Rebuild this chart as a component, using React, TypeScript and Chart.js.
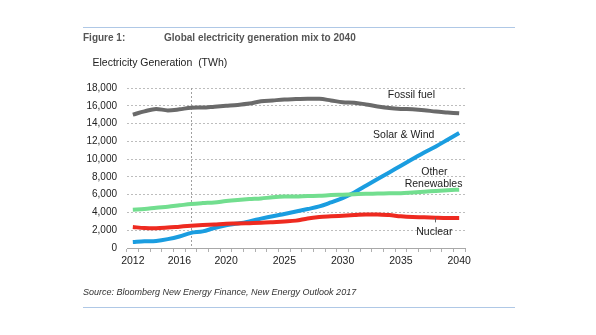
import React, { useEffect, useRef } from "react";
import { Chart, registerables } from "chart.js";

Chart.register(...registerables);

const years = [
  "2012", "2013", "2014", "2015", "2016", "2017", "2018", "2019", "2020", "2021",
  "2022", "2023", "2024", "2025", "2026", "2027", "2028", "2029", "2030", "2031",
  "2032", "2033", "2034", "2035", "2036", "2037", "2038", "2039", "2040",
];
const shownYearLabels = ["2012", "2016", "2020", "2025", "2030", "2035", "2040"];

const fossilFuel = [
  15000, 15370, 15650, 15480, 15600, 15780, 15800, 15900, 16000, 16100,
  16250, 16500, 16600, 16700, 16750, 16800, 16780, 16600, 16400, 16350,
  16150, 15930, 15750, 15650, 15600, 15500, 15350, 15250, 15150,
];
const solarWind = [
  670, 750, 800, 1000, 1300, 1700, 1870, 2250, 2550, 2750,
  3000, 3300, 3580, 3830, 4100, 4380, 4680, 5130, 5620, 6250,
  7000, 7760, 8500, 9260, 10000, 10750, 11430, 12180, 12940,
];
const otherRenewables = [
  4300, 4380, 4530, 4650, 4800, 4950, 5050, 5130, 5280, 5400,
  5500, 5580, 5700, 5780, 5800, 5850, 5880, 5950, 6000, 6050,
  6100, 6120, 6150, 6170, 6250, 6330, 6420, 6500, 6560,
];
const nuclear = [
  2360, 2250, 2230, 2300, 2400, 2500, 2580, 2650, 2730, 2750,
  2790, 2830, 2900, 2980, 3080, 3330, 3480, 3560, 3630, 3700,
  3780, 3780, 3700, 3560, 3480, 3450, 3400, 3370, 3370,
];
const yTicks = [0, 2000, 4000, 6000, 8000, 10000, 12000, 14000, 16000, 18000];
const forecastStartYear = "2017";

// Series labels anchored in data space (fractional year index, value)
const seriesLabels = [
  { text: "Fossil fuel", idx: 23.9, value: 17250, align: "center" },
  { text: "Solar & Wind", idx: 25.87, value: 12750, align: "right" },
  { text: "Other", idx: 25.87, value: 8550, align: "center" },
  { text: "Renewables", idx: 25.8, value: 7230, align: "center" },
  { text: "Nuclear", idx: 25.87, value: 1750, align: "center" },
];

const FONT = "'Liberation Sans', Arial, sans-serif";

const decorPlugin = {
  id: "decor",
  beforeDatasetsDraw(chart: any) {
    const { ctx, scales, chartArea } = chart;
    const x = scales.x;
    const i = years.indexOf(forecastStartYear);
    const px = Math.round(x.getPixelForValue(i)) + 0.5;
    ctx.save();
    ctx.strokeStyle = "#a0a0a0";
    ctx.lineWidth = 1;
    ctx.setLineDash([2, 2]);
    ctx.beginPath();
    ctx.moveTo(px, chartArea.top);
    ctx.lineTo(px, chartArea.bottom);
    ctx.stroke();
    ctx.restore();
  },
  afterDraw(chart: any) {
    const { ctx, scales } = chart;
    const x = scales.x;
    const y = scales.y;
    const x0 = x.getPixelForValue(0);
    const x1 = x.getPixelForValue(1);
    const xAt = (idx: number) => x0 + (x1 - x0) * idx;
    ctx.save();
    // rules
    ctx.strokeStyle = "#afc8e6";
    ctx.lineWidth = 1;
    ctx.beginPath();
    ctx.moveTo(83, 27.5);
    ctx.lineTo(515, 27.5);
    ctx.moveTo(83, 307.5);
    ctx.lineTo(515, 307.5);
    ctx.stroke();
    // titles
    ctx.textBaseline = "middle";
    ctx.textAlign = "left";
    ctx.fillStyle = "#555555";
    ctx.font = `bold 10px ${FONT}`;
    ctx.fillText("Figure 1:", 83, 38);
    ctx.fillText("Global electricity generation mix to 2040", 164, 38);
    ctx.fillStyle = "#222222";
    ctx.font = `10.5px ${FONT}`;
    ctx.fillText("Electricity Generation  (TWh)", 92.5, 63);
    ctx.fillStyle = "#333333";
    ctx.font = `italic 9px ${FONT}`;
    ctx.fillText("Source: Bloomberg New Energy Finance, New Energy Outlook 2017", 83, 292);
    // series labels
    ctx.fillStyle = "#222222";
    ctx.font = `10.5px ${FONT}`;
    for (const l of seriesLabels) {
      ctx.textAlign = l.align as CanvasTextAlign;
      ctx.fillText(l.text, xAt(l.idx), y.getPixelForValue(l.value));
    }
    // nuclear leader line
    ctx.strokeStyle = "#666666";
    ctx.lineWidth = 1;
    ctx.beginPath();
    const lx = Math.round(xAt(25.93)) + 0.5;
    ctx.moveTo(lx, y.getPixelForValue(3380));
    ctx.lineTo(lx, y.getPixelForValue(2880));
    ctx.stroke();
    ctx.restore();
  },
};

export default function App() {
  const ref = useRef<HTMLCanvasElement | null>(null);
  useEffect(() => {
    document.body.style.margin = "0";
    const canvas = ref.current!;
    const ds = (label: string, data: number[], color: string) => ({
      label,
      data,
      borderColor: color,
      backgroundColor: color,
      borderWidth: 4,
      pointRadius: 0,
      tension: 0.4,
      cubicInterpolationMode: "monotone" as const,
      fill: false,
    });
    const chart = new Chart(canvas, {
      type: "line",
      data: {
        labels: years,
        datasets: [
          ds("Other Renewables", otherRenewables, "#72de8f"),
          ds("Nuclear", nuclear, "#ee2a20"),
          ds("Solar & Wind", solarWind, "#1a9de0"),
          ds("Fossil fuel", fossilFuel, "#6a6a6a"),
        ],
      },
      options: {
        animation: false,
        responsive: false,
        devicePixelRatio: 1,
        layout: { padding: { top: 88, right: 131, bottom: 0, left: 0 } },
        plugins: {
          legend: { display: false },
          tooltip: { enabled: false },
          title: { display: false },
        },
        scales: {
          x: {
            type: "category",
            offset: true,
            afterFit: (s: any) => { s.height = 335 - 248; },
            grid: {
              offset: true,
              drawOnChartArea: false,
              drawTicks: true,
              tickLength: 4,
              color: "#b0b0b0",
            },
            border: { display: true, color: "#a8a8a8", width: 1 },
            ticks: {
              autoSkip: false,
              maxRotation: 0,
              padding: 3,
              color: "#222222",
              font: { family: FONT, size: 10.5 },
              callback: (_v: any, i: number) =>
                shownYearLabels.includes(years[i]) ? years[i] : "",
            },
          },
          y: {
            min: 0,
            max: 18000,
            afterFit: (s: any) => { s.width = 127; },
            afterBuildTicks: (s: any) => { s.ticks = yTicks.map((v) => ({ value: v })); },
            grid: {
              drawTicks: false,
              color: (c: any) => (c.tick && c.tick.value === 0 ? "rgba(0,0,0,0)" : "#bdbdbd"),
            },
            border: { display: false, dash: [2, 2] },
            ticks: {
              padding: 10,
              color: "#222222",
              font: { family: FONT, size: 10 },
              callback: (v: any) => Number(v).toLocaleString("en-US"),
            },
          },
        },
      },
      plugins: [decorPlugin],
    });
    return () => chart.destroy();
  }, []);
  return (
    <div style={{ position: "relative", width: 596, height: 335 }}>
      <canvas ref={ref} width={596} height={335} style={{ display: "block", width: 596, height: 335 }} />
    </div>
  );
}
